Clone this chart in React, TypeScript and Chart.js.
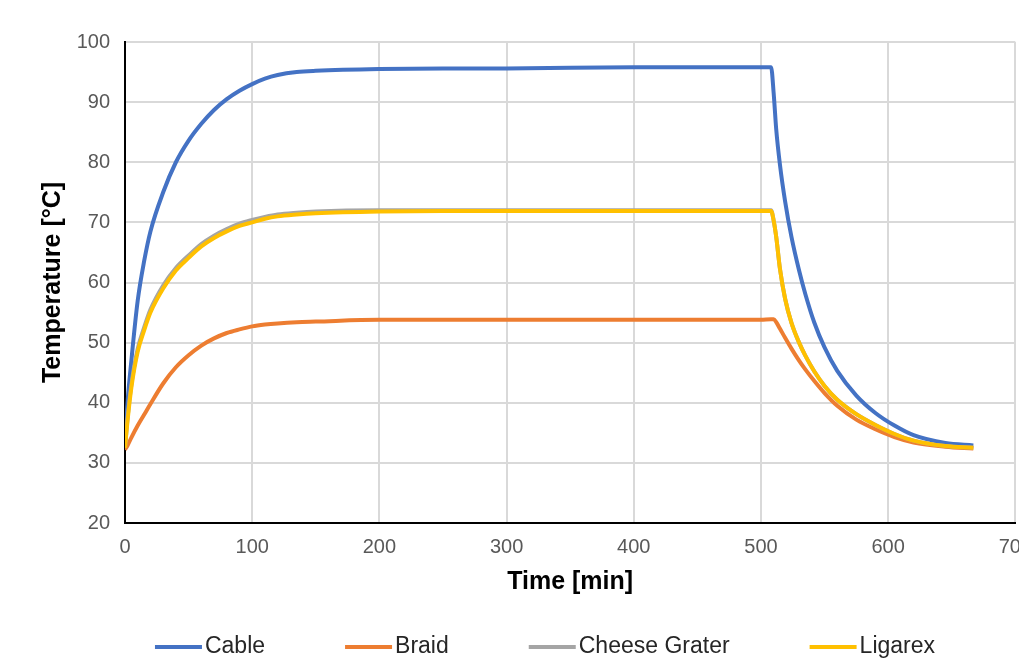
import React, { useEffect, useRef } from "react";
import { Chart, registerables } from "chart.js";

Chart.register(...registerables);

const FONT = "'Liberation Sans', Arial, sans-serif";

// time axis (min)
const times = [0, 2, 5, 10, 15, 20, 30, 40, 50, 60, 70, 80, 90, 100, 110, 120, 135, 150, 200, 250, 300, 400, 500, 508, 510, 512, 515, 519, 524, 530, 535, 542, 550, 560, 575, 590, 605, 620, 645, 667];

const cable = [32.5, 40, 47, 57, 63.5, 68.5, 75, 80, 83.6, 86.4, 88.7, 90.5, 91.9, 93, 93.9, 94.5, 95.0, 95.2, 95.5, 95.6, 95.6, 95.8, 95.8, 95.8, 91.5, 85.5, 79.5, 73.5, 67.6, 62.0, 58.0, 53.3, 49.2, 45.3, 41.2, 38.3, 36.2, 34.6, 33.3, 32.9];

const braid = [32.2, 32.9, 34.2, 36.2, 38.0, 39.8, 43.2, 45.9, 47.9, 49.5, 50.7, 51.6, 52.2, 52.7, 53.0, 53.2, 53.4, 53.5, 53.8, 53.8, 53.8, 53.8, 53.8, 53.9, 53.9, 53.4, 52.3, 50.8, 49.0, 47.0, 45.5, 43.6, 41.6, 39.5, 37.2, 35.6, 34.3, 33.4, 32.7, 32.4];

const cheeseGrater = [32.5, 37.4, 43, 49, 52.5, 55.5, 59.5, 62.4, 64.5, 66.4, 67.8, 68.9, 69.8, 70.4, 70.9, 71.3, 71.6, 71.8, 72, 72, 72, 72, 72, 72, 70.3, 67.6, 62.2, 57.3, 53.3, 50.0, 47.8, 45.2, 42.8, 40.5, 38.1, 36.3, 34.8, 33.7, 32.8, 32.5];

const ligarex = [32.5, 37, 42.5, 48.5, 52, 55, 59, 62, 64.1, 66, 67.4, 68.5, 69.4, 70.0, 70.6, 71.0, 71.3, 71.5, 71.8, 71.9, 71.9, 71.9, 71.9, 71.9, 70.3, 67.6, 62.2, 57.3, 53.3, 50.0, 47.8, 45.2, 42.8, 40.5, 38.1, 36.3, 34.8, 33.7, 32.8, 32.5];

const seriesNames = ["Cable", "Braid", "Cheese Grater", "Ligarex"];
const seriesColors = ["#4472C4", "#ED7D31", "#A5A5A5", "#FFC000"];
const seriesValues = [cable, braid, cheeseGrater, ligarex];

const xTitle = "Time [min]";
const yTitle = "Temperature [°C]";

const legendPlugin = {
  id: "customLegend",
  afterDraw(chart: any) {
    const ctx = chart.ctx as CanvasRenderingContext2D;
    ctx.save();
    ctx.font = `23px ${FONT}`;
    const lineLen = 47;
    const gap = 3;
    const itemGap = 80;
    const widths = seriesNames.map((n) => lineLen + gap + ctx.measureText(n).width);
    const total = widths.reduce((a, b) => a + b, 0) + itemGap * (widths.length - 1);
    let x = 545 - total / 2;
    const y = 647;
    seriesNames.forEach((name, i) => {
      ctx.strokeStyle = seriesColors[i];
      ctx.lineWidth = 4;
      ctx.beginPath();
      ctx.moveTo(x, y);
      ctx.lineTo(x + lineLen, y);
      ctx.stroke();
      ctx.fillStyle = "#262626";
      ctx.textBaseline = "middle";
      ctx.textAlign = "left";
      ctx.fillText(name, x + lineLen + gap, y);
      x += widths[i] + itemGap;
    });
    ctx.restore();
  },
};

export default function App() {
  const ref = useRef<HTMLCanvasElement>(null);

  useEffect(() => {
    document.body.style.margin = "0";
    const canvas = ref.current;
    if (!canvas) return;
    const chart = new Chart(canvas, {
      type: "line",
      data: {
        datasets: seriesNames.map((name, i) => ({
          label: name,
          data: times.map((t, k) => ({ x: t, y: seriesValues[i][k] })),
          borderColor: seriesColors[i],
          backgroundColor: seriesColors[i],
          borderWidth: 4,
          pointRadius: 0,
          cubicInterpolationMode: "monotone" as const,
          fill: false,
          order: 4 - i,
        })),
      },
      options: {
        animation: false,
        responsive: false,
        devicePixelRatio: 1,
        layout: { padding: { left: 38, top: 42, right: 0, bottom: 62 } },
        plugins: { legend: { display: false }, tooltip: { enabled: false } },
        scales: {
          x: {
            type: "linear",
            min: 0,
            max: 700,
            ticks: { stepSize: 100, color: "#595959", font: { family: FONT, size: 20 }, padding: 12, maxRotation: 0 },
            grid: { color: "#d9d9d9", lineWidth: 2, drawTicks: false },
            border: { color: "#000000", width: 2 },
            title: { display: true, text: xTitle, color: "#000000", font: { family: FONT, size: 25, weight: "bold" }, padding: 0 },
            afterFit: (s: any) => {
              s.height = 74;
            },
          },
          y: {
            type: "linear",
            min: 20,
            max: 100,
            ticks: { stepSize: 10, color: "#595959", font: { family: FONT, size: 20 }, padding: 15 },
            grid: { color: "#d9d9d9", lineWidth: 2, drawTicks: false },
            border: { color: "#000000", width: 2 },
            title: { display: true, text: yTitle, color: "#000000", font: { family: FONT, size: 25, weight: "bold" }, padding: 0 },
            afterFit: (s: any) => {
              s.width = 87;
            },
          },
        },
      },
      plugins: [legendPlugin],
    });
    return () => chart.destroy();
  }, []);

  return (
    <div style={{ width: 1019, height: 659, overflow: "hidden", position: "relative" }}>
      <canvas ref={ref} width={1044} height={659} style={{ display: "block", width: 1044, height: 659 }} />
    </div>
  );
}
